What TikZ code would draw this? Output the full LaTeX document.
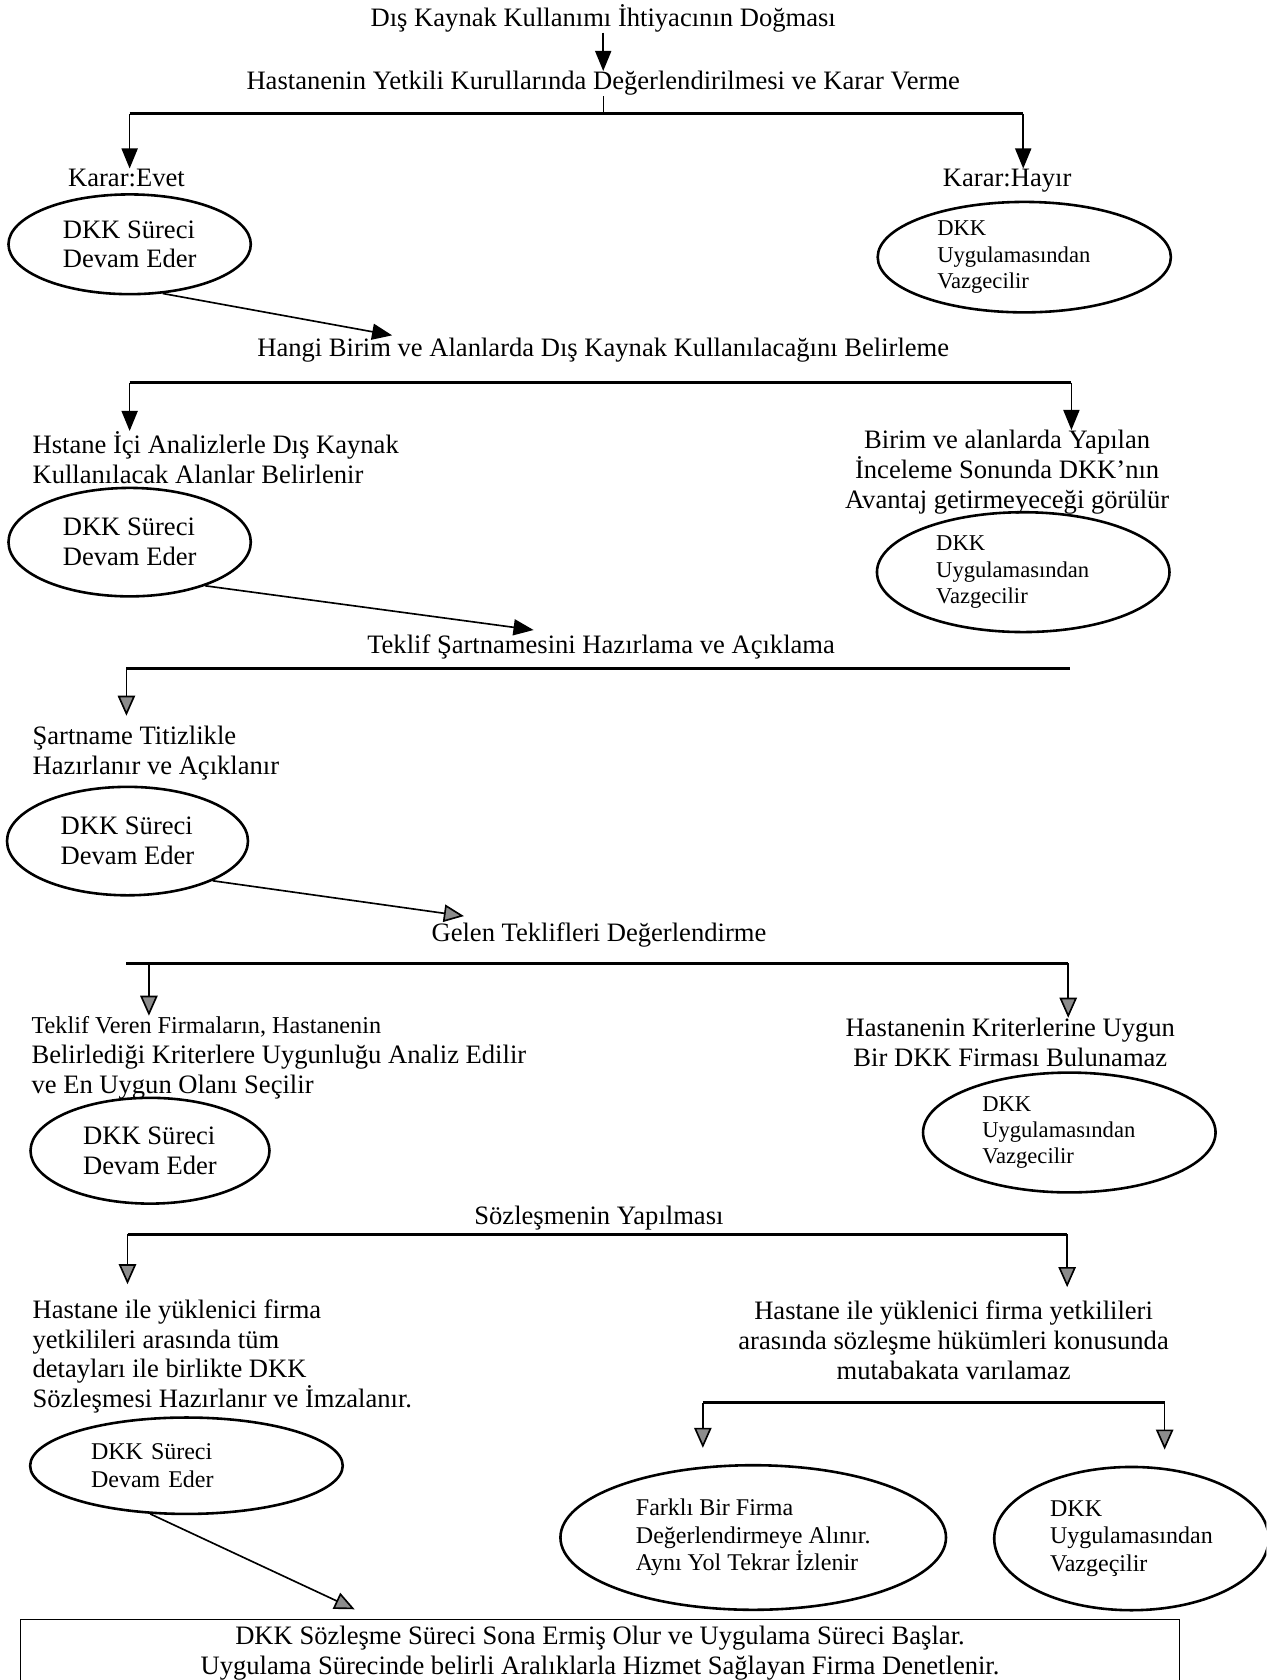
\documentclass[tikz,border=0pt]{standalone}
\usepackage{fontspec}
\setmainfont{Liberation Serif}
\usetikzlibrary{shapes.geometric,arrows.meta}

\begin{document}
\begin{tikzpicture}[x=0.016cm,y=-0.016cm,
every node/.style={inner sep=0pt,font=\fontsize{11.3}{12.7}\selectfont},
lft/.style={anchor=west,align=left},
mid/.style={align=center},
ell/.style={draw,ellipse,line width=1.1pt,align=left},
ellsm/.style={ell,text width=2.6cm,font=\fontsize{9.6}{11.1}\selectfont},
ellbt/.style={ell,font=\fontsize{10.2}{11.6}\selectfont},
bar/.style={line width=1.2pt},
arb/.style={line width=0.7pt,-{Triangle[length=0.3cm,width=0.24cm]}},
arg/.style={line width=0.7pt,-{Triangle[length=0.3cm,width=0.26cm,fill=black!45]}}]
\useasboundingbox (0,0) rectangle (1182,1568);
\clip (0,0) rectangle (1182,1568);
\node (t1) at (563,17) {Dış Kaynak Kullanımı İhtiyacının Doğması};
\node (t2) at (563,78) {Hastanenin Yetkili Kurullarında Değerlendirilmesi ve Karar Verme};
\coordinate (b1l) at (121,106);
\coordinate (b1r) at (955,106);
\node[anchor=base] (ev) at (118,174) {Karar:Evet};
\node[anchor=base] (hy) at (940,174) {Karar:Hayır};
\node[ell,minimum width=3.62cm,minimum height=1.49cm] (e1) at (121,228) {DKK Süreci\\Devam Eder};
\node[ellsm,minimum width=4.38cm,minimum height=1.65cm] (e2) at (956,240) {DKK\\Uygulamasından\\Vazgecilir};
\coordinate (a1) at (366,313);
\draw[arb] (t1.south -| t2.north) -- (t2.north);
\draw (t2.south) -- (t2.south |- b1l);
\draw[bar] (b1l) -- (b1r);
\draw[arb] (b1l) -- (b1l |- ev.north);
\draw[arb] (b1r) -- (b1r |- ev.north);
\draw[arb] (e1.-56) -- (a1);

\node (t3) at (563,327) {Hangi Birim ve Alanlarda Dış Kaynak Kullanılacağını Belirleme};
\coordinate (b2l) at (121,357);
\coordinate (b2r) at (1000,357);
\node[lft] (l1) at (30,427) {Hstane İçi Analizlerle Dış Kaynak\\Kullanılacak Alanlar Belirlenir};
\node[mid] (r1) at (940,441) {Birim ve alanlarda Yapılan\\İnceleme Sonunda DKK’nın\\Avantaj getirmeyeceği görülür};
\node[ell,minimum width=3.62cm,minimum height=1.62cm] (e3) at (121,506) {DKK Süreci\\Devam Eder};
\node[ellsm,minimum width=4.37cm,minimum height=1.79cm] (e4) at (955,534) {DKK\\Uygulamasından\\Vazgecilir};
\coordinate (a2) at (498,588);
\draw[bar] (b2l) -- (b2r);
\draw[arb] (b2l) -- (b2l |- l1.north);
\draw[arb] (b2r) -- (b2r |- r1.north);
\draw[arb] (e3.-30) -- (a2);

\node (t4) at (561,604) {Teklif Şartnamesini Hazırlama ve Açıklama};
\coordinate (b3l) at (118,624);
\coordinate (b3r) at (999,624);
\node[lft] (l2) at (30,703) {Şartname Titizlikle\\Hazırlanır ve Açıklanır};
\node[ell,minimum width=3.6cm,minimum height=1.62cm] (e5) at (119,785) {DKK Süreci\\Devam Eder};
\coordinate (a3) at (433,855);
\draw[bar] (b3l) -- (b3r);
\draw[arg,shorten >=0.15cm] (b3l) -- (b3l |- l2.north);
\draw[arg] (e5.-25) -- (a3);

\node (t5) at (559,873) {Gelen Teklifleri Değerlendirme};
\coordinate (b4l) at (139,899);
\coordinate (b4r) at (997,899);
\node[lft] (l3) at (29,987) {{\fontsize{10.3}{12.7}\selectfont Teklif Veren Firmaların, Hastanenin}\\Belirlediği Kriterlere Uygunluğu Analiz Edilir\\ve En Uygun Olanı Seçilir};
\node[mid] (r3) at (943,973) {Hastanenin Kriterlerine Uygun\\Bir DKK Firması Bulunamaz};
\node[ell,minimum width=3.57cm,minimum height=1.58cm] (e6) at (140,1074) {DKK Süreci\\Devam Eder};
\node[ellsm,minimum width=4.37cm,minimum height=1.79cm] (e7) at (998,1057) {DKK\\Uygulamasından\\Vazgecilir};
\draw[bar] ([xshift=-0.34cm]b4l) -- (b4r);
\draw[arg] (b4l) -- (b4l |- l3.north);
\draw[arg] (b4r) -- (b4r |- r3.north);

\node (t6) at (559,1137) {Sözleşmenin Yapılması};
\coordinate (b5l) at (119,1152);
\coordinate (b5r) at (996,1152);
\node[lft] (l4) at (30,1266) {Hastane ile yüklenici firma\\yetkilileri arasında tüm\\detayları ile birlikte DKK\\Sözleşmesi Hazırlanır ve İmzalanır.};
\node[mid] (r4) at (890,1251) {Hastane ile yüklenici firma yetkilileri\\arasında sözleşme hükümleri konusunda\\mutabakata varılamaz};
\coordinate (b6l) at (656,1309);
\coordinate (b6r) at (1087,1309);
\node[ellbt,text width=2.85cm,minimum width=4.67cm,minimum height=1.44cm] (e8) at (174,1368) {DKK Süreci\\Devam Eder};
\node[ellbt,minimum width=5.76cm,minimum height=2.16cm] (e9) at (703,1435) {Farklı Bir Firma\\Değerlendirmeye Alınır.\\Aynı Yol Tekrar İzlenir};
\node[ellbt,minimum width=4.1cm,minimum height=2.14cm] (e10) at (1056,1436) {DKK\\Uygulamasından\\Vazgeçilir};
\node[draw,line width=0.6pt,anchor=north,minimum width=17.31cm,minimum height=0.99cm,align=center] (box) at (560,1511) {DKK Sözleşme Süreci Sona Ermiş Olur ve Uygulama Süreci Başlar.\\Uygulama Sürecinde belirli Aralıklarla Hizmet Sağlayan Firma Denetlenir.};
\coordinate (a4) at (331,1502);
\draw[bar] (b5l) -- (b5r);
\draw[arg,shorten >=0.22cm] (b5l) -- (b5l |- l4.north);
\draw[arg,shorten >=0.2cm] (b5r) -- (b5r |- r4.north);
\draw[bar] (b6l) -- (b6r);
\draw[arg,shorten >=0.24cm] (b6l) -- (b6l |- e9.north);
\draw[arg,shorten >=0.24cm] (b6r) -- (b6r |- e10.north);
\draw[arg] (e8.-127) -- (a4);
\end{tikzpicture}
\end{document}
